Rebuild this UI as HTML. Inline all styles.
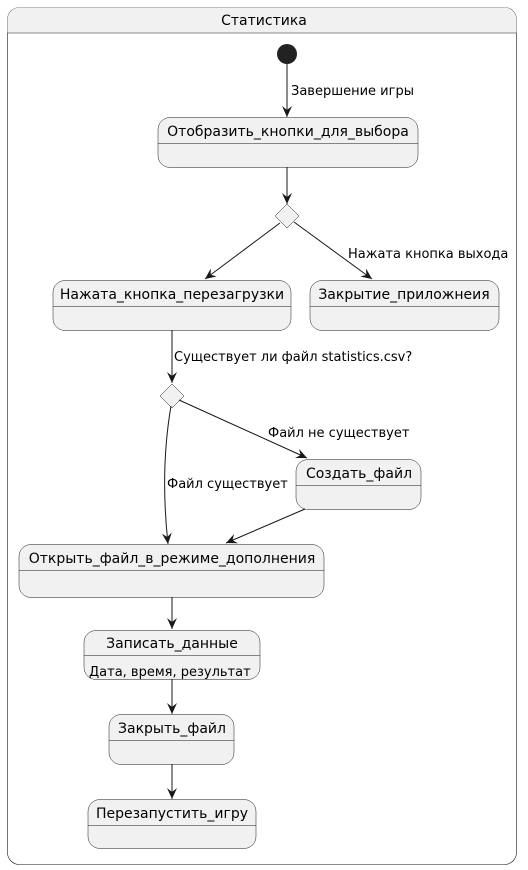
<!DOCTYPE html>
<html><head><meta charset="utf-8"><style>
html,body{margin:0;padding:0;background:#fff;}
svg{display:block;}
text{font-family:"DejaVu Sans","Liberation Sans",sans-serif;fill:#000;}
.b{fill:#f1f1f1;stroke:#181818;stroke-width:0.5;}
.l{stroke:#181818;stroke-width:1;fill:none;}
.s{font-size:14px;}
.t{font-size:13px;}
</style></head><body>
<svg width="528" height="870" viewBox="0 0 528 870" xmlns="http://www.w3.org/2000/svg">
<defs>
<marker id="a" viewBox="0 0 12 10" refX="11" refY="5" markerWidth="12" markerHeight="10" markerUnits="userSpaceOnUse" orient="auto">
<path d="M0,0 L11,5 L0,10 L4,5 Z" fill="#181818"/>
</marker>
</defs>
<rect x="7.5" y="7.5" width="509" height="857" rx="12" fill="#fff" stroke="#181818" stroke-width="0.6"/>
<path d="M7.5,33 V19.5 A12,12 0 0 1 19.5,7.5 H504.5 A12,12 0 0 1 516.5,19.5 V33 Z" fill="#f1f1f1"/>
<line x1="7.5" y1="33" x2="516.5" y2="33" stroke="#181818" stroke-width="0.6"/>
<text x="264" y="25" class="s" text-anchor="middle">Статистика</text>

<circle cx="287" cy="54" r="10" fill="#222"/>
<line class="l" x1="287" y1="64" x2="287" y2="117" marker-end="url(#a)"/>
<text x="291" y="95" class="t">Завершение игры</text>

<rect class="b" x="158" y="117.5" width="260" height="50" rx="12"/>
<line class="b" x1="158" y1="143.5" x2="418" y2="143.5"/>
<text x="288" y="136" class="s" text-anchor="middle">Отобразить_кнопки_для_выбора</text>

<line class="l" x1="287" y1="167" x2="287" y2="204" marker-end="url(#a)"/>
<polygon class="b" points="287,204 299,216 287,228 275,216"/>
<line class="l" x1="280" y1="223" x2="205" y2="279" marker-end="url(#a)"/>
<line class="l" x1="294" y1="222" x2="372" y2="279" marker-end="url(#a)"/>
<text x="348" y="258" class="t">Нажата кнопка выхода</text>

<rect class="b" x="53" y="280.5" width="238" height="50" rx="12"/>
<line class="b" x1="53" y1="306.5" x2="291" y2="306.5"/>
<text x="172" y="299" class="s" text-anchor="middle">Нажата_кнопка_перезагрузки</text>

<rect class="b" x="310" y="280.5" width="189" height="50" rx="12"/>
<line class="b" x1="310" y1="306.5" x2="499" y2="306.5"/>
<text x="404" y="299" class="s" text-anchor="middle">Закрытие_приложнеия</text>

<line class="l" x1="172" y1="330" x2="172" y2="383" marker-end="url(#a)"/>
<text x="174" y="361" class="t">Существует ли файл statistics.csv?</text>
<polygon class="b" points="172,384 184,396 172,408 160,396"/>

<line class="l" x1="179" y1="400" x2="307" y2="458" marker-end="url(#a)"/>
<text x="268" y="437" class="t">Файл не существует</text>

<path class="l" d="M171,406 Q160,470 168,544" marker-end="url(#a)"/>
<text x="167" y="488" class="t">Файл существует</text>

<rect class="b" x="296" y="459.5" width="125" height="50" rx="12"/>
<line class="b" x1="296" y1="485.5" x2="421" y2="485.5"/>
<text x="359" y="478" class="s" text-anchor="middle">Создать_файл</text>

<line class="l" x1="305" y1="509" x2="226" y2="543" marker-end="url(#a)"/>

<rect class="b" x="19" y="544.5" width="305" height="53" rx="12"/>
<line class="b" x1="19" y1="570.5" x2="324" y2="570.5"/>
<text x="172" y="563" class="s" text-anchor="middle">Открыть_файл_в_режиме_дополнения</text>

<line class="l" x1="172" y1="597" x2="172" y2="629" marker-end="url(#a)"/>
<rect class="b" x="84" y="630.5" width="176" height="49" rx="12"/>
<line class="b" x1="84" y1="655.5" x2="260" y2="655.5"/>
<text x="172" y="648" class="s" text-anchor="middle">Записать_данные</text>
<text x="89" y="676" class="t">Дата, время, результат</text>

<line class="l" x1="172" y1="679" x2="172" y2="714" marker-end="url(#a)"/>
<rect class="b" x="109" y="714.5" width="125" height="50" rx="12"/>
<line class="b" x1="109" y1="740.5" x2="234" y2="740.5"/>
<text x="172" y="733" class="s" text-anchor="middle">Закрыть_файл</text>

<line class="l" x1="172" y1="764" x2="172" y2="799" marker-end="url(#a)"/>
<rect class="b" x="88" y="799.5" width="168" height="49" rx="12"/>
<line class="b" x1="88" y1="825.5" x2="256" y2="825.5"/>
<text x="172" y="818" class="s" text-anchor="middle">Перезапустить_игру</text>
</svg>
</body></html>
